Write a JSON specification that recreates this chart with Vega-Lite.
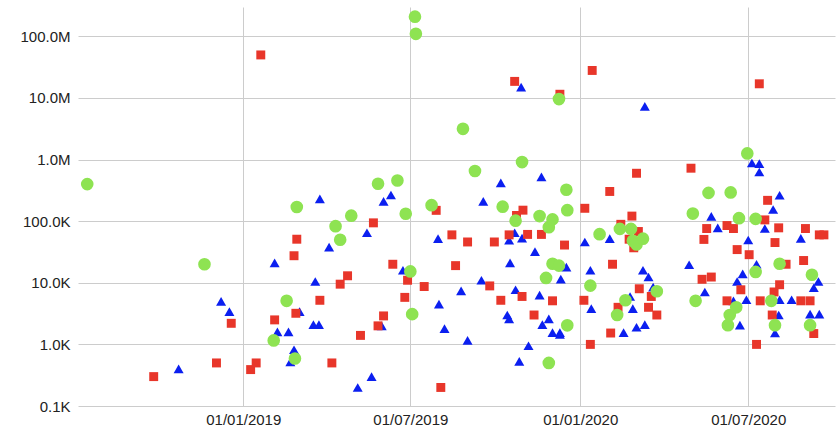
{
  "$schema": "https://vega.github.io/schema/vega-lite/v6.json",
  "autosize": {"type": "none"},
  "padding": {"left": 78, "top": 7, "right": 3, "bottom": 23},
  "width": 757,
  "height": 399,
  "background": "white",
  "config": {
    "view": {"stroke": null},
    "axis": {
      "labelFont": "Liberation Sans",
      "labelFontSize": 15,
      "labelColor": "#222222",
      "gridColor": "#cccccc",
      "gridWidth": 1,
      "domain": false,
      "ticks": false,
      "title": null
    }
  },
  "datasets": {
    "pts": [
      {"s":"B","d":"2018-10-23","v":400},
      {"s":"B","d":"2018-12-08","v":5000},
      {"s":"B","d":"2018-12-17","v":3400},
      {"s":"B","d":"2019-02-04","v":21000},
      {"s":"B","d":"2019-02-07","v":1600},
      {"s":"B","d":"2019-02-19","v":1600},
      {"s":"B","d":"2019-02-21","v":520},
      {"s":"B","d":"2019-02-25","v":820},
      {"s":"B","d":"2019-03-03","v":3400},
      {"s":"B","d":"2019-03-18","v":2100},
      {"s":"B","d":"2019-03-24","v":2100},
      {"s":"B","d":"2019-03-20","v":10500},
      {"s":"B","d":"2019-03-25","v":230000},
      {"s":"B","d":"2019-04-04","v":38000},
      {"s":"B","d":"2019-05-05","v":200},
      {"s":"B","d":"2019-05-15","v":65000},
      {"s":"B","d":"2019-05-20","v":300},
      {"s":"B","d":"2019-05-31","v":2000},
      {"s":"B","d":"2019-06-02","v":210000},
      {"s":"B","d":"2019-06-10","v":266000},
      {"s":"B","d":"2019-06-23","v":16000},
      {"s":"B","d":"2019-07-31","v":52000},
      {"s":"B","d":"2019-08-01","v":4500},
      {"s":"B","d":"2019-08-07","v":1800},
      {"s":"B","d":"2019-08-25","v":7400},
      {"s":"B","d":"2019-09-01","v":1160},
      {"s":"B","d":"2019-09-16","v":11000},
      {"s":"B","d":"2019-09-18","v":210000},
      {"s":"B","d":"2019-10-07","v":420000},
      {"s":"B","d":"2019-10-14","v":3000},
      {"s":"B","d":"2019-10-16","v":2600},
      {"s":"B","d":"2019-10-16","v":49000},
      {"s":"B","d":"2019-10-17","v":21000},
      {"s":"B","d":"2019-10-22","v":65000},
      {"s":"B","d":"2019-10-23","v":7700},
      {"s":"B","d":"2019-10-27","v":530},
      {"s":"B","d":"2019-10-29","v":15000000},
      {"s":"B","d":"2019-10-30","v":53000},
      {"s":"B","d":"2019-11-06","v":950},
      {"s":"B","d":"2019-11-13","v":32000},
      {"s":"B","d":"2019-11-18","v":6300},
      {"s":"B","d":"2019-11-20","v":525000},
      {"s":"B","d":"2019-11-21","v":2100},
      {"s":"B","d":"2019-11-28","v":2600},
      {"s":"B","d":"2019-12-02","v":1550},
      {"s":"B","d":"2019-12-10","v":1550},
      {"s":"B","d":"2019-12-10","v":1450},
      {"s":"B","d":"2019-12-11","v":11500},
      {"s":"B","d":"2019-12-17","v":18000},
      {"s":"B","d":"2020-01-06","v":46000},
      {"s":"B","d":"2020-01-12","v":16000},
      {"s":"B","d":"2020-01-13","v":3800},
      {"s":"B","d":"2020-02-02","v":52000},
      {"s":"B","d":"2020-02-17","v":1550},
      {"s":"B","d":"2020-02-24","v":6000},
      {"s":"B","d":"2020-02-27","v":3800},
      {"s":"B","d":"2020-03-02","v":1900},
      {"s":"B","d":"2020-03-09","v":16000},
      {"s":"B","d":"2020-03-11","v":2100},
      {"s":"B","d":"2020-03-11","v":7300000},
      {"s":"B","d":"2020-03-15","v":12400},
      {"s":"B","d":"2020-03-20","v":8500},
      {"s":"B","d":"2020-04-28","v":19600},
      {"s":"B","d":"2020-05-15","v":7100},
      {"s":"B","d":"2020-05-22","v":120000},
      {"s":"B","d":"2020-05-29","v":78000},
      {"s":"B","d":"2020-06-15","v":5100},
      {"s":"B","d":"2020-06-19","v":10500},
      {"s":"B","d":"2020-06-22","v":2050},
      {"s":"B","d":"2020-06-25","v":14000},
      {"s":"B","d":"2020-06-29","v":5300},
      {"s":"B","d":"2020-07-01","v":49500},
      {"s":"B","d":"2020-07-05","v":880000},
      {"s":"B","d":"2020-07-10","v":20000},
      {"s":"B","d":"2020-07-13","v":860000},
      {"s":"B","d":"2020-07-13","v":630000},
      {"s":"B","d":"2020-07-19","v":76000},
      {"s":"B","d":"2020-07-28","v":155000},
      {"s":"B","d":"2020-07-30","v":1530},
      {"s":"B","d":"2020-08-03","v":3000},
      {"s":"B","d":"2020-08-04","v":264000},
      {"s":"B","d":"2020-08-04","v":5300},
      {"s":"B","d":"2020-08-17","v":5300},
      {"s":"B","d":"2020-08-27","v":52600},
      {"s":"B","d":"2020-09-06","v":3100},
      {"s":"B","d":"2020-09-10","v":8300},
      {"s":"B","d":"2020-09-15","v":10500},
      {"s":"B","d":"2020-09-16","v":3100},

      {"s":"R","d":"2018-09-26","v":300},
      {"s":"R","d":"2018-12-03","v":500},
      {"s":"R","d":"2018-12-19","v":2200},
      {"s":"R","d":"2019-01-09","v":390},
      {"s":"R","d":"2019-01-15","v":500},
      {"s":"R","d":"2019-01-20","v":50000000},
      {"s":"R","d":"2019-02-04","v":2500},
      {"s":"R","d":"2019-02-25","v":27500},
      {"s":"R","d":"2019-02-28","v":51000},
      {"s":"R","d":"2019-02-27","v":3200},
      {"s":"R","d":"2019-03-25","v":5200},
      {"s":"R","d":"2019-04-07","v":500},
      {"s":"R","d":"2019-04-16","v":9500},
      {"s":"R","d":"2019-04-24","v":13000},
      {"s":"R","d":"2019-05-08","v":1400},
      {"s":"R","d":"2019-05-22","v":94000},
      {"s":"R","d":"2019-05-27","v":2000},
      {"s":"R","d":"2019-06-02","v":2900},
      {"s":"R","d":"2019-06-12","v":20000},
      {"s":"R","d":"2019-06-25","v":5800},
      {"s":"R","d":"2019-06-28","v":11000},
      {"s":"R","d":"2019-07-16","v":8700},
      {"s":"R","d":"2019-07-29","v":150000},
      {"s":"R","d":"2019-08-03","v":200},
      {"s":"R","d":"2019-08-15","v":60000},
      {"s":"R","d":"2019-08-19","v":19000},
      {"s":"R","d":"2019-09-01","v":46000},
      {"s":"R","d":"2019-09-25","v":8900},
      {"s":"R","d":"2019-09-30","v":46000},
      {"s":"R","d":"2019-10-07","v":5200},
      {"s":"R","d":"2019-10-16","v":60000},
      {"s":"R","d":"2019-10-22","v":18600000},
      {"s":"R","d":"2019-10-24","v":124000},
      {"s":"R","d":"2019-10-30","v":6000},
      {"s":"R","d":"2019-10-31","v":151000},
      {"s":"R","d":"2019-11-05","v":61000},
      {"s":"R","d":"2019-11-12","v":3000},
      {"s":"R","d":"2019-11-20","v":61000},
      {"s":"R","d":"2019-12-02","v":5100},
      {"s":"R","d":"2019-12-10","v":11500000},
      {"s":"R","d":"2019-12-15","v":41000},
      {"s":"R","d":"2020-01-05","v":5200},
      {"s":"R","d":"2020-01-06","v":162000},
      {"s":"R","d":"2020-01-12","v":1000},
      {"s":"R","d":"2020-01-14","v":28000000},
      {"s":"R","d":"2020-02-02","v":304000},
      {"s":"R","d":"2020-02-03","v":1530},
      {"s":"R","d":"2020-02-05","v":20000},
      {"s":"R","d":"2020-02-11","v":4000},
      {"s":"R","d":"2020-02-14","v":89000},
      {"s":"R","d":"2020-02-23","v":51000},
      {"s":"R","d":"2020-02-26","v":121000},
      {"s":"R","d":"2020-02-28","v":37000},
      {"s":"R","d":"2020-03-02","v":600000},
      {"s":"R","d":"2020-03-04","v":68000},
      {"s":"R","d":"2020-03-05","v":8000},
      {"s":"R","d":"2020-03-15","v":4000},
      {"s":"R","d":"2020-03-18","v":6000},
      {"s":"R","d":"2020-03-24","v":3000},
      {"s":"R","d":"2020-04-30","v":725000},
      {"s":"R","d":"2020-05-12","v":11400},
      {"s":"R","d":"2020-05-14","v":50600},
      {"s":"R","d":"2020-05-17","v":76000},
      {"s":"R","d":"2020-05-22","v":12400},
      {"s":"R","d":"2020-06-08","v":85000},
      {"s":"R","d":"2020-06-08","v":5100},
      {"s":"R","d":"2020-06-15","v":76000},
      {"s":"R","d":"2020-06-19","v":34600},
      {"s":"R","d":"2020-06-23","v":7700},
      {"s":"R","d":"2020-07-02","v":28600},
      {"s":"R","d":"2020-07-10","v":1000},
      {"s":"R","d":"2020-07-13","v":17000000},
      {"s":"R","d":"2020-07-14","v":5100},
      {"s":"R","d":"2020-07-19","v":105000},
      {"s":"R","d":"2020-07-22","v":218000},
      {"s":"R","d":"2020-07-27","v":3000},
      {"s":"R","d":"2020-07-29","v":7100},
      {"s":"R","d":"2020-07-30","v":45000},
      {"s":"R","d":"2020-08-03","v":78000},
      {"s":"R","d":"2020-08-04","v":9300},
      {"s":"R","d":"2020-08-11","v":20000},
      {"s":"R","d":"2020-08-27","v":5100},
      {"s":"R","d":"2020-08-30","v":23000},
      {"s":"R","d":"2020-09-01","v":76000},
      {"s":"R","d":"2020-09-06","v":5100},
      {"s":"R","d":"2020-09-10","v":1500},
      {"s":"R","d":"2020-09-16","v":60000},
      {"s":"R","d":"2020-09-21","v":60000},

      {"s":"G","d":"2018-07-16","v":400000},
      {"s":"G","d":"2018-11-20","v":20000},
      {"s":"G","d":"2019-02-03","v":1160},
      {"s":"G","d":"2019-02-17","v":5100},
      {"s":"G","d":"2019-02-26","v":590},
      {"s":"G","d":"2019-02-28","v":170000},
      {"s":"G","d":"2019-04-11","v":83000},
      {"s":"G","d":"2019-04-16","v":50000},
      {"s":"G","d":"2019-04-28","v":123000},
      {"s":"G","d":"2019-05-27","v":405000},
      {"s":"G","d":"2019-06-17","v":457000},
      {"s":"G","d":"2019-06-26","v":132000},
      {"s":"G","d":"2019-07-01","v":15300},
      {"s":"G","d":"2019-07-03","v":3100},
      {"s":"G","d":"2019-07-06","v":209000000},
      {"s":"G","d":"2019-07-07","v":110000000},
      {"s":"G","d":"2019-07-24","v":182000},
      {"s":"G","d":"2019-08-27","v":3160000},
      {"s":"G","d":"2019-09-09","v":653000},
      {"s":"G","d":"2019-10-09","v":172000},
      {"s":"G","d":"2019-10-23","v":102000},
      {"s":"G","d":"2019-10-30","v":912000},
      {"s":"G","d":"2019-11-18","v":121000},
      {"s":"G","d":"2019-11-25","v":12000},
      {"s":"G","d":"2019-11-28","v":80000},
      {"s":"G","d":"2019-11-28","v":500},
      {"s":"G","d":"2019-12-02","v":107000},
      {"s":"G","d":"2019-12-02","v":20400},
      {"s":"G","d":"2019-12-09","v":9600000},
      {"s":"G","d":"2019-12-09","v":19000},
      {"s":"G","d":"2019-12-17","v":324000},
      {"s":"G","d":"2019-12-18","v":151000},
      {"s":"G","d":"2019-12-18","v":2040},
      {"s":"G","d":"2020-01-12","v":9000},
      {"s":"G","d":"2020-01-22","v":61500},
      {"s":"G","d":"2020-02-10","v":3000},
      {"s":"G","d":"2020-02-13","v":75000},
      {"s":"G","d":"2020-02-19","v":5200},
      {"s":"G","d":"2020-02-25","v":75000},
      {"s":"G","d":"2020-02-27","v":48000},
      {"s":"G","d":"2020-03-02","v":42000},
      {"s":"G","d":"2020-03-09","v":52000},
      {"s":"G","d":"2020-03-24","v":7300},
      {"s":"G","d":"2020-05-02","v":133000},
      {"s":"G","d":"2020-05-05","v":5100},
      {"s":"G","d":"2020-05-19","v":288000},
      {"s":"G","d":"2020-06-09","v":2050},
      {"s":"G","d":"2020-06-11","v":3000},
      {"s":"G","d":"2020-06-12","v":293000},
      {"s":"G","d":"2020-06-18","v":4000},
      {"s":"G","d":"2020-06-21","v":112000},
      {"s":"G","d":"2020-06-30","v":1260000},
      {"s":"G","d":"2020-07-09","v":109000},
      {"s":"G","d":"2020-07-09","v":15000},
      {"s":"G","d":"2020-07-26","v":5100},
      {"s":"G","d":"2020-07-30","v":2050},
      {"s":"G","d":"2020-08-04","v":20400},
      {"s":"G","d":"2020-09-06","v":2050},
      {"s":"G","d":"2020-09-08","v":13500}
    ]
  },
  "data": {"name": "pts"},
  "encoding": {
    "x": {
      "field": "d",
      "type": "temporal",
      "scale": {
        "type": "utc",
        "domain": [
          {"year": 2018, "month": 7, "date": 6, "utc": true},
          {"year": 2020, "month": 10, "date": 3, "utc": true}
        ],
        "nice": false
      },
      "axis": {
        "values": [
          {"year": 2019, "month": 1, "date": 1, "utc": true},
          {"year": 2019, "month": 7, "date": 1, "utc": true},
          {"year": 2020, "month": 1, "date": 1, "utc": true},
          {"year": 2020, "month": 7, "date": 1, "utc": true}
        ],
        "labelExpr": "utcFormat(datum.value, '%d/%m/%Y')",
        "labelPadding": 6,
        "labelFlush": false,
        "labelOverlap": false
      }
    },
    "y": {
      "field": "v",
      "type": "quantitative",
      "scale": {"type": "log", "domain": [100, 300000000], "nice": false},
      "axis": {
        "values": [100, 1000, 10000, 100000, 1000000, 10000000, 100000000],
        "labelExpr": "datum.value >= 1000000 ? format(datum.value / 1000000, '.1f') + 'M' : format(datum.value / 1000, '.1f') + 'K'",
        "labelPadding": 8,
        "labelFlush": false,
        "labelOverlap": false
      }
    }
  },
  "layer": [
    {
      "transform": [{"filter": "datum.s === 'B'"}],
      "mark": {"type": "point", "shape": "triangle-up", "filled": true, "opacity": 1, "size": 100, "color": "#0b1ff0"}
    },
    {
      "transform": [{"filter": "datum.s === 'R'"}],
      "mark": {"type": "point", "shape": "square", "filled": true, "opacity": 1, "size": 80, "color": "#e8362a"}
    },
    {
      "transform": [{"filter": "datum.s === 'G'"}],
      "mark": {"type": "point", "shape": "circle", "filled": true, "opacity": 1, "size": 160, "color": "#8ee352"}
    }
  ]
}
